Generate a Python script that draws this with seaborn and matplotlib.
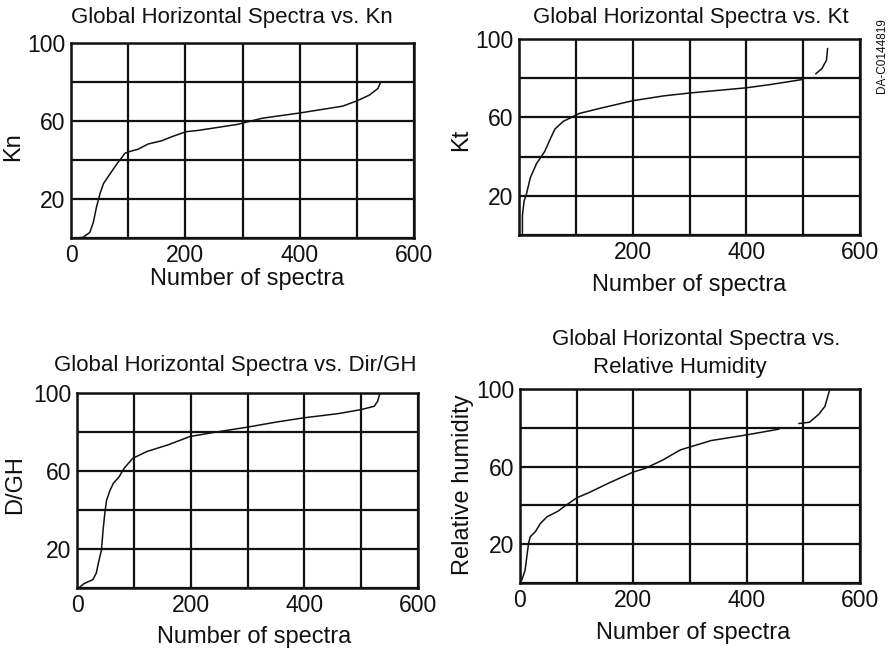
import matplotlib
matplotlib.use("Agg")
import matplotlib.pyplot as plt
import seaborn as sns
import pandas as pd

# ---- data ----
kn_x = [5, 21, 33, 39, 45, 51, 57, 69, 81, 90, 94, 102, 117, 135, 159, 177, 201, 223, 292, 334, 400, 475, 500, 522, 537, 541]
kn_y = [0, 0.3, 2.9, 8, 16.4, 23, 28, 33.2, 38.3, 41.7, 43.4, 44.3, 45.5, 48.2, 49.9, 52, 54.5, 55.2, 58.3, 61.4, 64.1, 67.6, 70.3, 73.3, 76.7, 79.5]

kt_x = [6, 6, 9, 13, 20, 31, 45, 55, 63, 78, 90, 106, 145, 200, 255, 302, 400, 443, 498]
kt_y = [0.8, 10, 17.4, 20.8, 29.3, 36.5, 42.5, 49, 54, 58, 59.7, 62, 64.8, 68.5, 71, 72.5, 75.1, 76.8, 79.3]
kt_hook_x = [522, 533, 541, 543]
kt_hook_y = [82.2, 84.9, 89.2, 95.2]

dgh_x = [3, 12, 28, 34, 37, 43, 46, 49, 52, 58, 64, 74, 83, 98, 123, 160, 199, 239, 300, 353, 400, 459, 500, 523, 529, 533]
dgh_y = [0, 2.2, 4.3, 7.7, 12, 19.5, 30, 38.5, 45, 50, 53.7, 57, 61.4, 66.5, 70, 73.4, 77.7, 79.7, 82.5, 85.2, 87.3, 89.4, 91.5, 93.2, 95.8, 100]

rh_x = [3, 9, 12, 15, 18, 27, 36, 48, 67, 79, 100, 121, 158, 200, 221, 252, 283, 302, 337, 399, 457]
rh_y = [1.4, 6.6, 13.5, 20.3, 23.8, 26.4, 30.7, 34.2, 37, 39.6, 43.9, 46.5, 51.7, 57.2, 59.1, 63.4, 68.6, 70.3, 73.4, 76.3, 79.3]
rh_hook_x = [492, 511, 527, 538, 546]
rh_hook_y = [82.2, 82.9, 86.9, 91, 99.1]

xticks_full = [0, 200, 400, 600]
xticks_no0 = [200, 400, 600]
yticks = [20, 60, 100]
grid_x = [100, 300, 500]
grid_y = [40, 80]

titles = ["Global Horizontal Spectra vs. Kn",
          "Global Horizontal Spectra vs. Kt",
          "Global Horizontal Spectra vs. Dir/GH",
          "Global Horizontal Spectra vs.",
          "Relative Humidity"]
ylabels = ["Kn", "Kt", "D/GH", "Relative humidity"]
xlabel = "Number of spectra"

sns.set_theme(style="white")
plt.rcParams['font.family'] = ['Liberation Sans', 'DejaVu Sans']

W, H = 892, 651
fig = plt.figure(figsize=(W / 100, H / 100), dpi=100)
fig.patch.set_facecolor("white")


def add_ax(l, t, r, b):
    return fig.add_axes([l / W, 1 - b / H, (r - l) / W, (b - t) / H])


TICK_FS = 16.5
LAB_FS = 17
TITLE_FS = 16


def style(ax, xt, xlab_pos, ylab, ylab_pos):
    ax.set_xlim(0, 600)
    ax.set_ylim(0, 100)
    ax.set_xticks(xt)
    ax.set_xticks(grid_x + ([0] if 0 not in xt else []), minor=True)
    ax.set_yticks(yticks)
    ax.set_yticks(grid_y + [0], minor=True)
    ax.tick_params(which="both", length=0, labelsize=TICK_FS, colors="#111111", pad=4)
    ax.grid(True, which="both", color="#111111", linewidth=1.6)
    for s in ax.spines.values():
        s.set_visible(True)
        s.set_color("#111111")
        s.set_linewidth(1.8)
    ax.set_facecolor("white")
    ax.set_xlabel(xlabel, fontsize=LAB_FS, color="#111111")
    ax.xaxis.set_label_coords(*xlab_pos)
    ax.xaxis.label.set_va("center")
    ax.set_ylabel(ylab, fontsize=LAB_FS, color="#111111")
    ax.yaxis.set_label_coords(*ylab_pos)
    ax.yaxis.label.set_va("center")


def curve(ax, xs, ys):
    df = pd.DataFrame({"x": xs, "y": ys})
    sns.lineplot(data=df, x="x", y="y", ax=ax, color="#111111", linewidth=1.1,
                 sort=False, estimator=None)


ax1 = add_ax(71, 43, 414, 238)
curve(ax1, kn_x, kn_y)
style(ax1, xticks_full, (0.513, -0.21), ylabels[0], (-0.169, 0.47))

ax2 = add_ax(519, 39, 860, 235)
curve(ax2, kt_x, kt_y)
curve(ax2, kt_hook_x, kt_hook_y)
style(ax2, xticks_no0, (0.50, -0.255), ylabels[1], (-0.17, 0.485))

ax3 = add_ax(77, 393, 418, 588)
curve(ax3, dgh_x, dgh_y)
style(ax3, xticks_full, (0.52, -0.252), ylabels[2], (-0.182, 0.53))

ax4 = add_ax(520, 389, 860, 583)
curve(ax4, rh_x, rh_y)
curve(ax4, rh_hook_x, rh_hook_y)
style(ax4, xticks_full, (0.51, -0.26), ylabels[3], (-0.168, 0.505))

# titles
fig.text(232 / W, 1 - 18 / H, titles[0], ha="center", va="center", fontsize=TITLE_FS, color="#111111")
fig.text(691 / W, 1 - 17 / H, titles[1], ha="center", va="center", fontsize=TITLE_FS, color="#111111")
fig.text(235 / W, 1 - 365 / H, titles[2], ha="center", va="center", fontsize=TITLE_FS, color="#111111")
fig.text(696 / W, 1 - 339 / H, titles[3], ha="center", va="center", fontsize=TITLE_FS, color="#111111")
fig.text(680 / W, 1 - 368 / H, titles[4], ha="center", va="center", fontsize=TITLE_FS, color="#111111")

# scan id at right edge
fig.text(882 / W, 1 - 93 / H, "DA-C0144819", rotation=90, ha="center", va="bottom",
         fontsize=8.5, color="#111111")

fig.savefig("out.png", dpi=100, facecolor="white")
